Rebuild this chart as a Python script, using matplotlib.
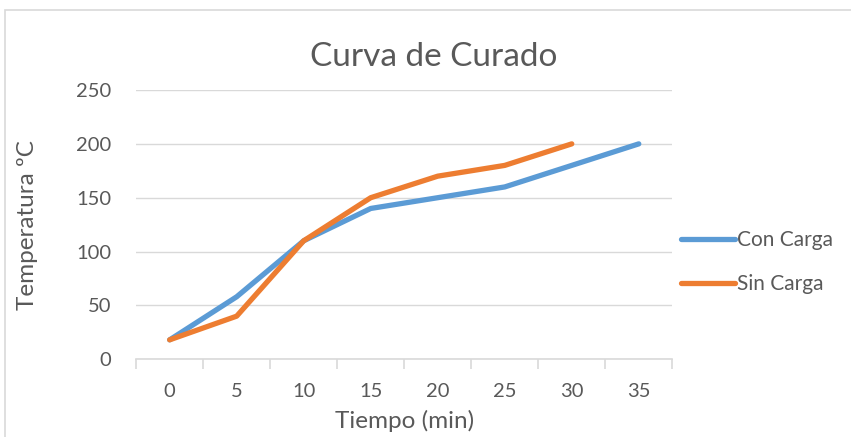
import matplotlib.pyplot as plt
from matplotlib.patches import Rectangle

plt.rcParams['font.family'] = ['Lato', 'DejaVu Sans']

tiempo = ['0', '5', '10', '15', '20', '25', '30', '35']
con_carga = [18, 58, 110, 140, 150, 160, 180, 200]
sin_carga = [18, 40, 110, 150, 170, 180, 200]

txt = '#595959'
grid = '#d9d9d9'

fig = plt.figure(figsize=(8.51, 4.37), dpi=100)
ax = fig.add_axes([0.160, 0.178, 0.630, 0.616])

x_con = list(range(len(con_carga)))
x_sin = list(range(len(sin_carga)))
ax.plot(x_con, con_carga, color='#5B9BD5', lw=3.8, solid_capstyle='round',
        solid_joinstyle='round', label='Con Carga', zorder=3)
ax.plot(x_sin, sin_carga, color='#ED7D31', lw=3.8, solid_capstyle='round',
        solid_joinstyle='round', label='Sin Carga', zorder=4)

ax.set_xlim(-0.5, len(tiempo) - 0.5)
ax.set_ylim(0, 250)
ax.set_yticks(range(0, 251, 50))
ax.set_xticks(range(len(tiempo)))
ax.set_xticklabels(tiempo)
ax.set_xticks([i - 0.5 for i in range(len(tiempo) + 1)], minor=True)

ax.grid(axis='y', color=grid, lw=1)
ax.set_axisbelow(True)
for s in ['top', 'right', 'left']:
    ax.spines[s].set_visible(False)
ax.spines['bottom'].set_color(grid)
ax.spines['bottom'].set_linewidth(1.2)

ax.tick_params(axis='x', which='major', length=0, pad=17, labelsize=14.5, labelcolor=txt)
ax.tick_params(axis='x', which='minor', length=7, color=grid, width=1.2)
ax.tick_params(axis='y', length=0, pad=18, labelsize=14.5, labelcolor=txt)

ax.set_xlabel('Tiempo (min)', fontsize=17.5, color=txt, labelpad=7)
ax.set_ylabel('Temperatura ºC', fontsize=17.5, color=txt, labelpad=27)
fig.text(0.51, 0.87, 'Curva de Curado', fontsize=24, color=txt, ha='center', va='center')

ax.legend(loc='center left', bbox_to_anchor=(1.0, 0.36), frameon=False,
          fontsize=15, labelcolor=txt, handlelength=2.6, handletextpad=0.1,
          labelspacing=1.15, borderaxespad=0.0)

# chart area border
fig.patches.append(Rectangle((0.006, -0.01), 1.1, 0.987, transform=fig.transFigure,
                             fill=False, edgecolor=grid, lw=1.2))

fig.savefig('out.png', dpi=100)
